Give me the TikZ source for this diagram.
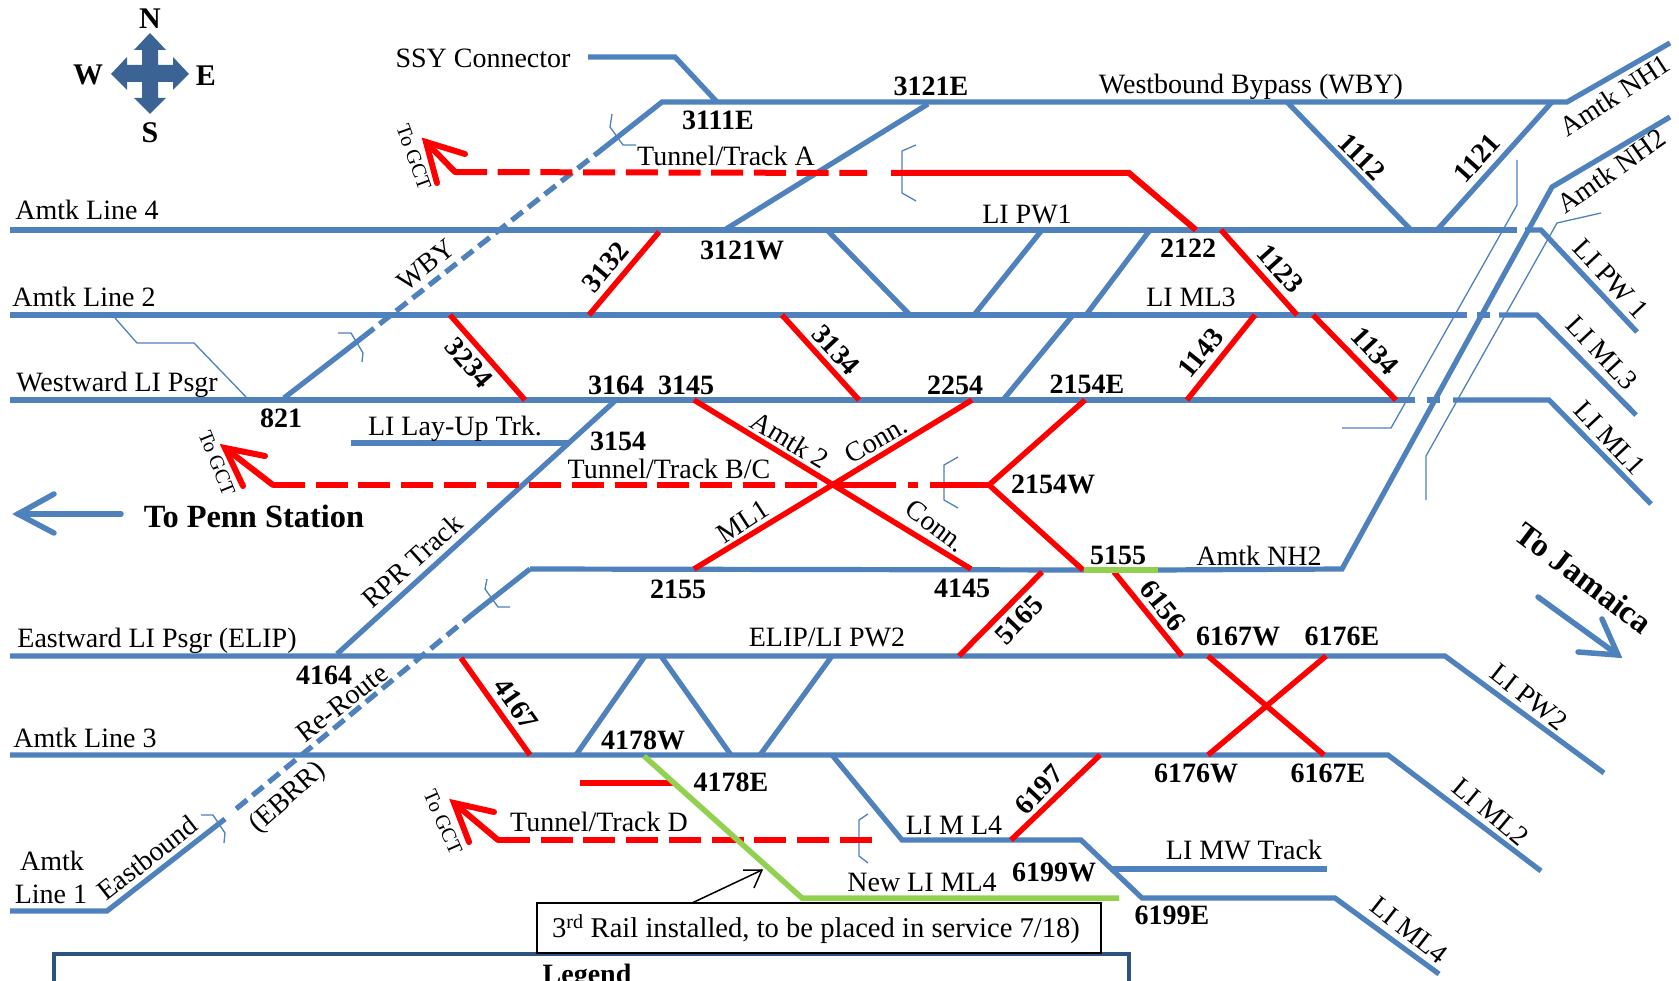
\documentclass[tikz,border=0pt]{standalone}
\usepackage{fontspec}
\setmainfont{Liberation Serif}
\definecolor{trk}{HTML}{4F81BD}
\definecolor{trkdark}{HTML}{3B6394}
\definecolor{legbd}{HTML}{2F5380}
\definecolor{grn}{HTML}{92D050}
\tikzset{
  track/.style={draw=trk,line width=5.2pt,line join=miter},
  dtrack/.style={draw=trk,line width=5.2pt,dash pattern=on 14pt off 7pt},
  redt/.style={draw=red,line width=5.5pt,line join=miter},
  dred/.style={draw=red,line width=6pt,dash pattern=on 32pt off 10.7pt},
  redhead/.style={draw=red,line width=6pt,line cap=round,line join=miter},
  greent/.style={draw=grn,line width=5.5pt},
  fine/.style={draw=trk,line width=1.3pt},
  bluehead/.style={draw=trk,line width=5.5pt,line cap=round,line join=miter},
  lbl/.style={inner sep=0pt,font=\fontsize{28}{30}\selectfont},
  blbl/.style={inner sep=0pt,font=\fontsize{28}{30}\selectfont\bfseries},
  gct/.style={inner sep=0pt,font=\fontsize{20.5}{22}\selectfont},
}
\begin{document}
\begin{tikzpicture}[x=1pt,y=-1pt]
\useasboundingbox (0,0) rectangle (1679,981);
\clip (0,0) rectangle (1679,981);
\fill[white] (0,0) rectangle (1679,981);
% compass
\fill[trkdark] (150,33)--(166,50)--(158,50)--(158,65)--(173,65)--(173,57)--(189,74)--(173,90)--(173,82)--(158,82)--(158,98)--(166,98)--(150,114)--(134,98)--(142,98)--(142,82)--(127,82)--(127,90)--(111,74)--(127,57)--(127,65)--(142,65)--(142,50)--(134,50)--cycle;
\node[blbl,font=\fontsize{30}{32}\selectfont\bfseries] (cN) at (150,19) {N};
\node[blbl,font=\fontsize{30}{32}\selectfont\bfseries] (cW) at (88,75) {W};
\node[blbl,font=\fontsize{30}{32}\selectfont\bfseries] (cE) at (206,76) {E};
\node[blbl,font=\fontsize{30}{32}\selectfont\bfseries] (cS) at (150,133) {S};
% thin leaders and brackets
\draw[fine] (115,318)--(137,343)--(194,343)--(247,398);
\draw[fine] (612,114)--(610,127)--(623,145)--(636,145);
\draw[fine] (338,333)--(351,333)--(363,353)--(362,362);
\draw[fine] (916,145)--(902,151)--(902,193)--(916,201);
\draw[fine] (1517,160)--(1517,205)--(1391,428)--(1342,428);
\draw[fine] (1601,213)--(1557,223)--(1426,456)--(1426,500);
\draw[fine] (958,457)--(944,465)--(944,500)--(958,508);
\draw[fine] (868,814)--(859,820)--(859,856)--(868,863);
\draw[fine] (487,579)--(485,589)--(498,607)--(510,607);
\draw[fine] (201,815)--(213,815)--(225,833)--(224,843);
% blue tracks
\draw[track] (10,230)--(1517,230);
\draw[track] (1525,230)--(1541,230)--(1637,332);
\draw[track] (10,315)--(1467,315);
\draw[track] (1477,315)--(1490,315);
\draw[track] (1499,315)--(1537,315)--(1636,415);
\draw[track] (10,400)--(1415,400);
\draw[track] (1427,400)--(1440,400);
\draw[track] (1453,400)--(1549,400)--(1651,504);
\draw[track] (284,398)--(363,337);
\draw[dtrack] (363,337)--(605,147);
\draw[track] (605,147)--(662,102)--(1567,102)--(1670,43);
\draw[track] (588,57)--(675,57)--(717,102);
\draw[track] (726,229)--(928,104);
\draw[track] (827,230)--(910,315);
\draw[track] (1042,230)--(974,315);
\draw[track] (1150,230)--(1086,315);
\draw[track] (1073,315)--(1003,400);
\draw[track] (1287,102)--(1411,230);
\draw[track] (1552,102)--(1437,230);
\draw[track] (1670,117)--(1552,187)--(1342,569)--(1158,570);
\draw[track] (530,569)--(1084,570);
\draw[track] (474,613)--(530,569);
\draw[dtrack] (474,613)--(236,809);
\draw[track] (10,911)--(107,911)--(225,819);
\draw[track] (337,654)--(616,400);
\draw[track] (351,443)--(568,443);
\draw[track] (10,656)--(1445,656)--(1604,773);
\draw[track] (10,755)--(1388,755)--(1541,871);
\draw[track] (645,656)--(576,755);
\draw[track] (661,656)--(731,755);
\draw[track] (832,656)--(760,755);
\draw[track] (832,755)--(902,840)--(1081,840)--(1142,898)--(1335,898)--(1439,974);
\draw[track] (1110,869)--(1327,869);
% red tracks
\draw[redt] (659,232)--(589,315);
\draw[redt] (450,315)--(525,400);
\draw[redt] (782,315)--(859,400);
\draw[redt] (972,400)--(694,569);
\draw[redt] (694,400)--(971,569);
\draw[redt] (1085,400)--(989,485)--(1083,570);
\draw[redt] (461,658)--(530,755);
\draw[redt] (1221,230)--(1297,315);
\draw[redt] (1255,315)--(1187,400);
\draw[redt] (1313,315)--(1396,400);
\draw[redt] (1042,572)--(959,656);
\draw[redt] (1114,572)--(1182,656);
\draw[redt] (1208,656)--(1324,755);
\draw[redt] (1326,656)--(1208,755);
\draw[redt] (1100,755)--(1011,840);
\draw[redt] (580,783)--(675,783);
% red tunnels
\draw[dred] (455,172)--(867,173);
\draw[redt,line width=6pt] (891,173)--(1129,173)--(1196,230);
\draw[redhead] (465,154)--(426,142)--(437,183);
\draw[redhead] (426,142)--(455,172);
\draw[dred] (273,485)--(833,485);
\draw[redt,line width=6pt] (833,485)--(896,485);
\draw[redt,line width=6pt] (908,485)--(918,485);
\draw[redt,line width=6pt] (930,485)--(989,485);
\draw[redhead] (265,456)--(225,448)--(243,486);
\draw[redhead] (225,448)--(273,485);
\draw[dred] (498,840)--(876,840);
\draw[redhead] (494,812)--(454,803)--(469,842);
\draw[redhead] (454,803)--(498,840);
% green
\draw[greent] (644,756)--(802,898)--(1119,898);
\draw[greent] (1084,570)--(1158,570);
% direction arrows
\draw[bluehead] (121,514)--(18,514);
\draw[bluehead] (54,494)--(18,514)--(54,533);
\draw[bluehead] (1538,597)--(1618,655);
\draw[bluehead] (1578,652)--(1618,655)--(1602,619);
% legend and note
\draw[legbd,line width=3.5pt] (54,1000)--(54,954)--(1129,954)--(1129,1000);
\node[blbl] (legend) at (587,977) {Legend};
\node[draw=black,line width=1.5pt,fill=white,minimum width=564pt,minimum height=50pt,inner sep=0pt] (railbox) at (819,928) {};
\node[lbl,font=\fontsize{28.6}{30}\selectfont] (railtext) at (816,929) {3\textsuperscript{rd} Rail installed, to be placed in service 7/18)};
\coordinate (railfoot) at (692,903);
\coordinate (railtip) at (762,870);
\draw[black,line width=1.5pt] (railfoot)--(railtip);
\draw[black,line width=1.5pt] (743,870)--(railtip)--(754,888);
% labels
\node[lbl] (ssy) at (483,58) {SSY Connector};
\node[blbl] (n3111E) at (718,120) {3111E};
\node[blbl] (n3121E) at (931,86) {3121E};
\node[lbl] (wby) at (1251,87) {Westbound Bypass (WBY)};
\node[lbl] (tta) at (726,156) {Tunnel/Track A};
\node[gct,rotate=-70] (gcta) at (414,157) {To GCT};
\node[lbl] (al4) at (87,210) {Amtk Line 4};
\node[lbl] (al2) at (84,297) {Amtk Line 2};
\node[lbl] (wlip) at (117,385) {Westward LI Psgr};
\node[lbl,rotate=39] (wbyd) at (426,265) {WBY};
\node[blbl,rotate=50] (n3132) at (605,267) {3132};
\node[blbl,rotate=-49] (n3234) at (469,363) {3234};
\node[blbl,rotate=-47] (n3134) at (836,350) {3134};
\node[blbl] (n3164) at (616,385) {3164};
\node[blbl] (n3145) at (686,385) {3145};
\node[blbl] (n3121W) at (742,250) {3121W};
\node[blbl] (n821) at (281,418) {821};
\node[lbl] (lay) at (455,429) {LI Lay-Up Trk.};
\node[blbl] (n3154) at (618,441) {3154};
\node[lbl] (ttbc) at (669,469) {Tunnel/Track B/C};
\node[gct,rotate=-68] (gctb) at (217,463) {To GCT};
\node[blbl,font=\fontsize{32.4}{34}\selectfont\bfseries] (penn) at (254,516) {To Penn Station};
\node[lbl,rotate=42] (rpr) at (412,561) {RPR Track};
\node[lbl,rotate=-31] (am2) at (790,440) {Amtk 2};
\node[lbl,rotate=30] (conn1) at (876,440) {Conn.};
\node[lbl,rotate=33] (ml1) at (743,521) {ML1};
\node[lbl,rotate=-37] (conn2) at (936,526) {Conn.};
\node[blbl] (n2154E) at (1087,384) {2154E};
\node[blbl] (n2254) at (955,385) {2254};
\node[blbl] (n2154W) at (1053,484) {2154W};
\node[blbl,rotate=-45] (n1112) at (1362,157) {1112};
\node[blbl,rotate=48] (n1121) at (1477,158) {1121};
\node[lbl,rotate=33] (nh1) at (1615,95) {Amtk NH1};
\node[lbl,rotate=35] (nh2) at (1611,171) {Amtk NH2};
\node[lbl] (pw1) at (1027,214) {LI PW1};
\node[blbl] (n2122) at (1188,248) {2122};
\node[blbl,rotate=-48] (n1123) at (1280,269) {1123};
\node[lbl] (ml3) at (1191,297) {LI ML3};
\node[blbl,rotate=51] (n1143) at (1201,353) {1143};
\node[blbl,rotate=-47] (n1134) at (1375,351) {1134};
\node[lbl,rotate=-47] (pw1r) at (1611,279) {LI PW 1};
\node[lbl,rotate=-47] (ml3r) at (1602,353) {LI ML3};
\node[lbl,rotate=-47] (ml1r) at (1610,438) {LI ML1};
\node[blbl,font=\fontsize{33}{35}\selectfont\bfseries,rotate=-37] (jam) at (1584,578) {To Jamaica};
\node[lbl] (nh2h) at (1259,556) {Amtk NH2};
\node[blbl] (n5155) at (1118,555) {5155};
\node[blbl] (n4145) at (962,588) {4145};
\node[blbl] (n2155) at (678,589) {2155};
\node[lbl] (elip) at (157,641) {Eastward LI Psgr (ELIP)};
\node[lbl] (elippw) at (827,637) {ELIP/LI PW2};
\node[blbl] (n4164) at (324,675) {4164};
\node[lbl,rotate=38] (rer) at (342,703) {Re-Route};
\node[blbl,rotate=46] (n5165) at (1019,620) {5165};
\node[blbl,rotate=-51] (n6156) at (1163,606) {6156};
\node[blbl] (n6167W) at (1238,636) {6167W};
\node[blbl] (n6176E) at (1342,636) {6176E};
\node[lbl,rotate=-38] (pw2) at (1529,697) {LI PW2};
\node[blbl,rotate=-55] (n4167) at (516,704) {4167};
\node[lbl] (al3) at (85,738) {Amtk Line 3};
\node[blbl] (n4178W) at (643,740) {4178W};
\node[blbl] (n4178E) at (731,782) {4178E};
\node[blbl] (n6176W) at (1196,773) {6176W};
\node[blbl] (n6167E) at (1328,773) {6167E};
\node[lbl,rotate=-40] (ml2) at (1491,812) {LI ML2};
\node[blbl,rotate=47] (n6197) at (1039,790) {6197};
\node[lbl] (lml4) at (954,825) {LI M L4};
\node[lbl] (mw) at (1244,850) {LI MW Track};
\node[lbl] (nml4) at (922,882) {New LI ML4};
\node[blbl] (n6199W) at (1054,872) {6199W};
\node[blbl] (n6199E) at (1172,915) {6199E};
\node[lbl,rotate=-38] (ml4) at (1409,930) {LI ML4};
\node[lbl] (ttd) at (599,822) {Tunnel/Track D};
\node[gct,rotate=-66] (gctd) at (443,822) {To GCT};
\node[lbl,rotate=38] (eb) at (147,858) {Eastbound};
\node[lbl,rotate=42] (ebrr) at (288,798) {(EBRR)};
\node[lbl] (al1a) at (52,861) {Amtk};
\node[lbl] (al1b) at (51,894) {Line 1};
\end{tikzpicture}
\end{document}
